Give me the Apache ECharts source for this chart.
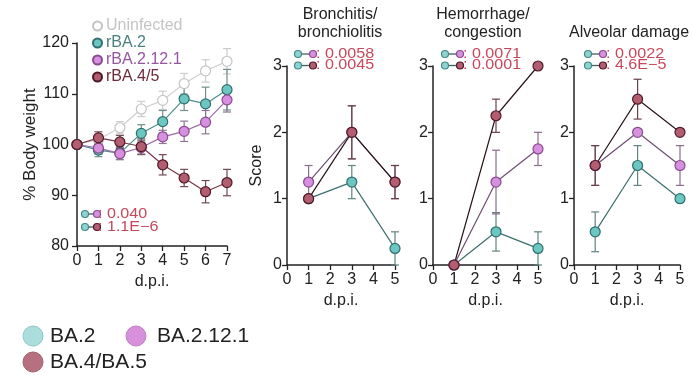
<!DOCTYPE html>
<html>
<head>
<meta charset="utf-8">
<script src="https://cdn.jsdelivr.net/npm/echarts@6/dist/echarts.min.js"></script>
<style>
  html, body { margin: 0; padding: 0; background: #fff; }
  #chart { width: 693px; height: 375px; }
</style>
</head>
<body>
<div id="chart"></div>
<script>
// body weight panel (% of day 0)
const bwDays = [0, 1, 2, 3, 4, 5, 6, 7]
const bwUninfected = [100, 101, 103.3, 107, 108.7, 112, 114.5, 116.4]
const bwUninfectedErr = [0, 1, 1.2, 1.5, 1.8, 2, 2.2, 2.5]
const bwBA2 = [100, 98.9, 98.3, 102.2, 104.5, 109, 108, 110.8]
const bwBA2Err = [0, 1.3, 1.2, 1.7, 2.2, 2.3, 3.3, 4]
const bwBA2121 = [100, 99.3, 98.2, 99.4, 101.5, 102.6, 104.4, 108.8]
const bwBA2121Err = [0, 1.2, 1.2, 1.4, 1.3, 2, 2.3, 2.4]
const bwBA45 = [100, 101.3, 100.5, 99.6, 96, 93.4, 90.7, 92.5]
const bwBA45Err = [0, 1.2, 1.3, 1.5, 2, 1.7, 2.2, 2.6]

// histology scores
const scoreDays = [1, 3, 5]
const bronchBA2 = [1, 1.25, 0.25]
const bronchBA2Err = [0, 0.25, 0.25]
const bronchBA2121 = [1.25, 2, 1.25]
const bronchBA2121Err = [0.25, 0.4, 0.25]
const bronchBA45 = [1, 2, 1.25]
const bronchBA45Err = [0, 0.4, 0.25]
const hemoBA2 = [0, 0.5, 0.25]
const hemoBA2Err = [0, 0.29, 0.25]
const hemoBA2121 = [0, 1.25, 1.75]
const hemoBA2121Err = [0, 0.48, 0.25]
const hemoBA45 = [0, 2.25, 3]
const hemoBA45Err = [0, 0.25, 0]
const alvBA2 = [0.5, 1.5, 1]
const alvBA2Err = [0.3, 0.3, 0]
const alvBA2121 = [1.5, 2, 1.5]
const alvBA2121Err = [0.3, 0, 0.3]
const alvBA45 = [1.5, 2.5, 2]
const alvBA45Err = [0.3, 0.3, 0]

// p-values (BA.2 vs BA.2.12.1, BA.2 vs BA.4/5)
const pBW = ['0.040', '1.1E\u22126']
const pBronch = ['0.0058', '0.0045']
const pHemo = ['0.0071', '0.0001']
const pAlv = ['0.0022', '4.6E\u22125']

const panelTitles = ['Bronchitis/\nbronchiolitis', 'Hemorrhage/\ncongestion', 'Alveolar damage']
const bottomLegend = ['BA.2', 'BA.2.12.1', 'BA.4/BA.5']
const bwLegend = ['Uninfected', 'rBA.2', 'rBA.2.12.1', 'rBA.4/5']

const FONT = '"Liberation Sans", Arial, sans-serif'
const C = {
  unFill: '#ffffff', unLine: '#cfcfcf',
  tealFill: '#6cc6c2', tealEdge: '#2f6f6d', tealLine: '#4a8f8c', tealDark: '#3d6f6d',
  purFill: '#d690df', purEdge: '#8a4a90', purLine: '#9a6aa6', purDark: '#6f4e72',
  marFill: '#b35d70', marEdge: '#4e1a28', marLine: '#7a3545', marDark: '#2a141b',
  red: '#c8485a'
}

const chartsBox = echarts.init(document.getElementById('chart'))

const zip = (xs, ys, es) => xs.map((x, i) => es ? [x, ys[i], es[i]] : [x, ys[i]])

function errRender(params, api) {
  const x = api.value(0)
  const y = api.value(1)
  const e = api.value(2)
  if (!e) return null
  const hi = api.coord([x, y + e])
  const lo = api.coord([x, y - e])
  const w = 4
  const style = { stroke: api.visual('color'), lineWidth: 1.2 }
  return {
    type: 'group',
    children: [
      { type: 'line', shape: { x1: hi[0], y1: hi[1], x2: lo[0], y2: lo[1] }, style },
      { type: 'line', shape: { x1: hi[0] - w, y1: hi[1], x2: hi[0] + w, y2: hi[1] }, style },
      { type: 'line', shape: { x1: lo[0] - w, y1: lo[1], x2: lo[0] + w, y2: lo[1] }, style }
    ]
  }
}

function pair(name, idx, xs, ys, es, fill, edge, line, errColor) {
  return [
    {
      name: 'err ' + name + idx,
      type: 'custom',
      xAxisIndex: idx,
      yAxisIndex: idx,
      renderItem: errRender,
      itemStyle: { color: errColor },
      data: zip(xs, ys, es),
      clip: false,
      z: 1
    },
    {
      name: name,
      type: 'line',
      xAxisIndex: idx,
      yAxisIndex: idx,
      data: zip(xs, ys),
      symbol: 'circle',
      symbolSize: 10,
      lineStyle: { color: line, width: 1.2 },
      itemStyle: { color: fill, borderColor: edge, borderWidth: 1.2 },
      z: 2
    }
  ]
}

const series = [
  ...pair('Uninfected', 0, bwDays, bwUninfected, bwUninfectedErr, C.unFill, '#c4c4c4', C.unLine, '#cccccc'),
  ...pair('rBA.2', 0, bwDays, bwBA2, bwBA2Err, C.tealFill, C.tealEdge, C.tealLine, '#6f8f8e'),
  ...pair('rBA.2.12.1', 0, bwDays, bwBA2121, bwBA2121Err, C.purFill, C.purEdge, C.purLine, '#8f7592'),
  ...pair('rBA.4/5', 0, bwDays, bwBA45, bwBA45Err, C.marFill, C.marEdge, C.marLine, '#6f4a55')
]

const scoreSets = [
  [bronchBA2, bronchBA2Err, bronchBA2121, bronchBA2121Err, bronchBA45, bronchBA45Err],
  [hemoBA2, hemoBA2Err, hemoBA2121, hemoBA2121Err, hemoBA45, hemoBA45Err],
  [alvBA2, alvBA2Err, alvBA2121, alvBA2121Err, alvBA45, alvBA45Err]
]
scoreSets.forEach((s, k) => {
  const idx = k + 1
  series.push(
    ...pair('BA.2 s', idx, scoreDays, s[0], s[1], C.tealFill, C.tealEdge, C.tealDark, '#5f8482'),
    ...pair('BA.2.12.1 s', idx, scoreDays, s[2], s[3], C.purFill, C.purEdge, C.purDark, '#8a6e8c'),
    ...pair('BA.4/5 s', idx, scoreDays, s[4], s[5], C.marFill, C.marEdge, C.marDark, '#6a3f4c')
  )
})

const grids = [
  { left: 77, top: 43, width: 150, height: 203 },
  { left: 287, top: 66, width: 108, height: 199 },
  { left: 433, top: 66, width: 105, height: 199 },
  { left: 574, top: 66, width: 106, height: 199 }
]

const axisLine = { show: true, onZero: false, lineStyle: { color: '#222', width: 1.5 } }
const axisTick = { show: true, length: 5, lineStyle: { color: '#222', width: 1.3 } }
const labelStyle = { color: '#222', fontSize: 16, fontFamily: FONT }

const xAxis = grids.map((g, i) => ({
  type: 'value',
  gridIndex: i,
  min: 0,
  max: i === 0 ? 7 : 5,
  interval: 1,
  name: 'd.p.i.',
  nameLocation: 'middle',
  nameGap: 25,
  nameTextStyle: { color: '#222', fontSize: 16, fontFamily: FONT },
  axisLine,
  axisTick,
  axisLabel: { ...labelStyle, margin: 7 },
  splitLine: { show: false }
}))

const yAxis = grids.map((g, i) => ({
  type: 'value',
  gridIndex: i,
  min: i === 0 ? 80 : 0,
  max: i === 0 ? 120 : 3,
  interval: i === 0 ? 10 : 1,
  name: i === 0 ? '% Body weight' : (i === 1 ? 'Score' : ''),
  nameLocation: 'middle',
  nameGap: i === 0 ? 38 : 22,
  nameTextStyle: { color: '#222', fontSize: i === 0 ? 17 : 16, fontFamily: FONT },
  axisLine,
  axisTick,
  axisLabel: { ...labelStyle, margin: i === 0 ? 8 : 5 },
  splitLine: { show: false }
}))

// small "o-o: p" annotations
function pvals(x, y, gap, textX, vals, rowGap) {
  const els = []
  const second = [[C.purFill, C.purEdge], [C.marFill, C.marEdge]]
  vals.forEach((v, r) => {
    const yy = y + r * rowGap
    els.push(
      { type: 'line', shape: { x1: x + 3, y1: yy, x2: x + gap - 3, y2: yy }, style: { stroke: '#3d5f5e', lineWidth: 1.3 } },
      { type: 'circle', shape: { cx: x, cy: yy, r: 3.5 }, style: { fill: '#8fd3d0', stroke: '#3f8a87', lineWidth: 1.2 } },
      { type: 'circle', shape: { cx: x + gap, cy: yy, r: 3.5 }, style: { fill: second[r][0], stroke: second[r][1], lineWidth: 1.2 } },
      {
        type: 'text',
        scaleX: 1.15,
        x: textX,
        y: yy,
        style: { text: ': ' + v, x: 0, y: 0, fill: C.red, font: '14px ' + FONT, textVerticalAlign: 'middle' }
      }
    )
  })
  return els
}

const graphic = [
  ...pvals(85, 214, 12, 98, pBW, 13),
  ...pvals(298, 54, 15, 316, pBronch, 11.5),
  ...pvals(445, 54, 15, 463, pHemo, 11.5),
  ...pvals(588, 54, 15, 606, pAlv, 11.5),
  {
    type: 'text',
    style: { text: panelTitles[0], x: 340, y: 6, fill: '#222', font: '16px ' + FONT, textAlign: 'center', lineHeight: 18 }
  },
  {
    type: 'text',
    style: { text: panelTitles[1], x: 483, y: 6, fill: '#222', font: '16px ' + FONT, textAlign: 'center', lineHeight: 18 }
  },
  {
    type: 'text',
    style: { text: panelTitles[2], x: 629, y: 25, fill: '#222', font: '16px ' + FONT, textAlign: 'center' }
  }
]

// bottom colour key
const keyItems = [
  { cx: 33, cy: 336, fill: '#a9dedd', stroke: '#8cc8c6', tx: 50 },
  { cx: 136, cy: 336, fill: '#d690dc', stroke: '#c27fc9', tx: 157 },
  { cx: 33, cy: 362, fill: '#b7707f', stroke: '#a2616f', tx: 50 }
]
keyItems.forEach((k, i) => {
  graphic.push(
    { type: 'circle', shape: { cx: k.cx, cy: k.cy, r: 10 }, style: { fill: k.fill, stroke: k.stroke, lineWidth: 1 } },
    { type: 'text', style: { text: bottomLegend[i], x: k.tx, y: k.cy, fill: '#222', font: '21px ' + FONT, textVerticalAlign: 'middle' } }
  )
})

const legendColors = ['#c4c4c4', '#4a807e', '#9556a0', '#6d2a3a']

const options = {
  animation: false,
  backgroundColor: '#fff',
  grid: grids,
  xAxis,
  yAxis,
  legend: {
    orient: 'vertical',
    left: 87,
    top: 13,
    itemGap: 1,
    itemWidth: 9,
    itemHeight: 9,
    icon: 'circle',
    data: bwLegend.map((n, i) => ({ name: n, textStyle: { color: legendColors[i] } })),
    textStyle: { fontSize: 16, fontFamily: FONT, padding: [0, 0, 0, -1] }
  },
  graphic,
  series
}

chartsBox.setOption(options, true)
</script>
</body>
</html>
